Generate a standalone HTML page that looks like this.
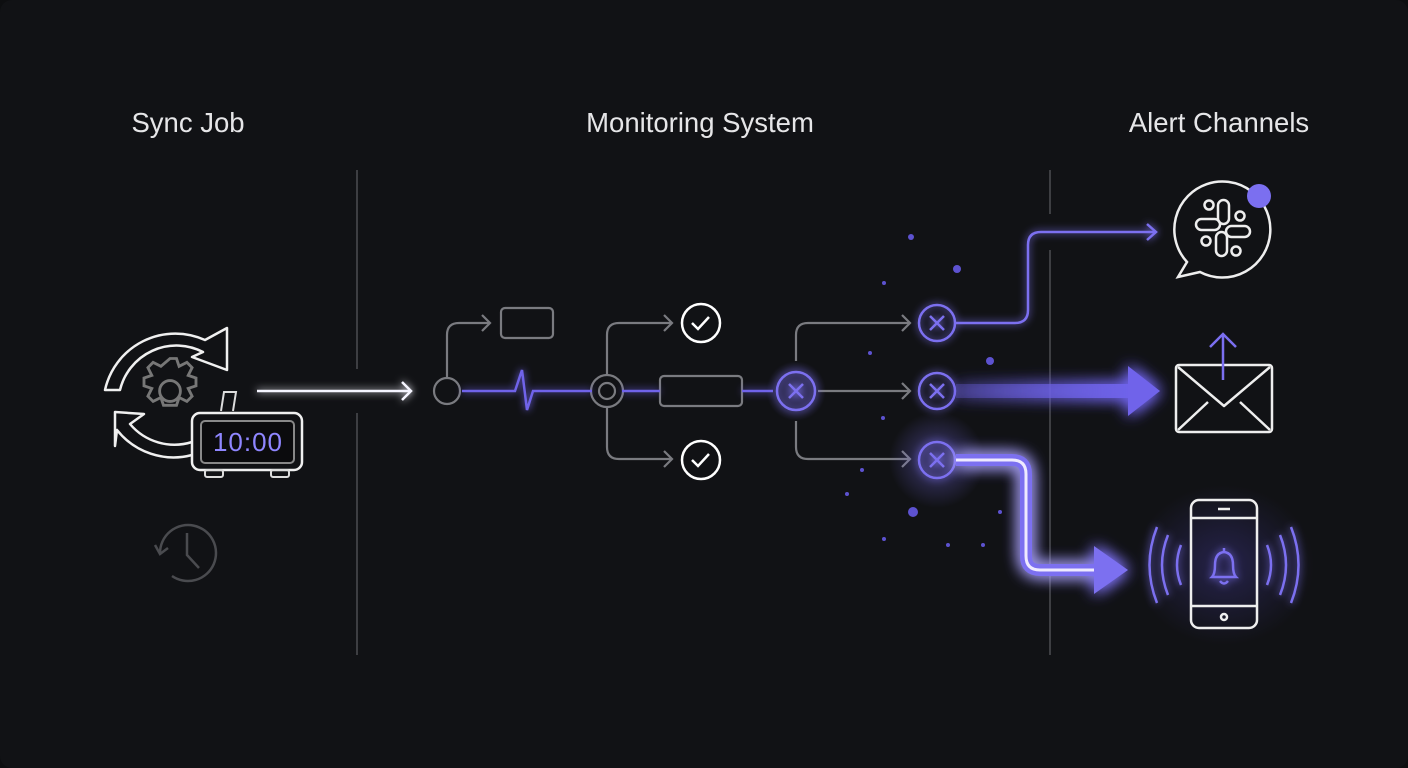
<!DOCTYPE html>
<html><head><meta charset="utf-8"><style>
html,body{margin:0;padding:0;background:#0d0e10;}
svg{display:block}
text{font-family:"Liberation Sans",sans-serif;}
</style></head><body>
<svg width="1408" height="768" viewBox="0 0 1408 768" xmlns="http://www.w3.org/2000/svg">
<defs>
<filter id="g" x="-50%" y="-50%" width="200%" height="200%"><feGaussianBlur stdDeviation="4" result="b"/><feMerge><feMergeNode in="b"/><feMergeNode in="SourceGraphic"/></feMerge></filter>
<filter id="g2" x="-50%" y="-50%" width="200%" height="200%"><feGaussianBlur stdDeviation="8" result="b"/><feMerge><feMergeNode in="b"/><feMergeNode in="b"/><feMergeNode in="SourceGraphic"/></feMerge></filter>
<radialGradient id="halo"><stop offset="0" stop-color="#7b6ff0" stop-opacity="0.45"/><stop offset="1" stop-color="#7b6ff0" stop-opacity="0"/></radialGradient>
<radialGradient id="phone"><stop offset="0" stop-color="#3a3380" stop-opacity="0.5"/><stop offset="1" stop-color="#3a3380" stop-opacity="0"/></radialGradient>
<linearGradient id="bar" x1="0" x2="1"><stop offset="0" stop-color="#6a5fe0" stop-opacity="0.3"/><stop offset="1" stop-color="#6f63ea"/></linearGradient>
</defs>
<rect width="1408" height="768" rx="12" fill="#111215"/>
<text x="188" y="132" font-size="27.5" fill="#e6e6e8" text-anchor="middle">Sync Job</text>
<text x="700" y="132" font-size="27.5" fill="#e6e6e8" text-anchor="middle">Monitoring System</text>
<text x="1219" y="132" font-size="27.5" fill="#e6e6e8" text-anchor="middle">Alert Channels</text>
<g stroke="#3d3e42" stroke-width="2">
<line x1="357" y1="170" x2="357" y2="369"/><line x1="357" y1="413" x2="357" y2="655"/>
<line x1="1050" y1="170" x2="1050" y2="214"/><line x1="1050" y1="250" x2="1050" y2="655"/>
</g>
<!-- sync icon -->
<g fill="none" stroke="#f0f0f0" stroke-width="2.5" stroke-linejoin="round">
<path d="M105,390 A72,72 0 0 1 205,340 L227,328 L227,370 L192,357 L203,352 A58,58 0 0 0 120,390 Z"/>
<path d="M192,455 A72,72 0 0 1 117,430 L115,446 L115,412 L144,414 L130,424 A58,58 0 0 0 192,442"/>
</g>
<g fill="none" stroke="#777" stroke-width="2.2" transform="translate(170,391) scale(1.3) translate(-170,-391)">
<circle cx="170" cy="391" r="8"/>
<path d="M170,366 l5,0 l2,6 l6,-3 l4,4 l-3,6 l6,2 l0,6 l-6,2 l3,6 l-4,4 l-6,-3 l-2,6 l-10,0 l-2,-6 l-6,3 l-4,-4 l3,-6 l-6,-2 l0,-6 l6,-2 l-3,-6 l4,-4 l6,3 z"/>
</g>
<path d="M221,411 L224,392 L236,392 L233,411" fill="none" stroke="#ddd" stroke-width="2"/>
<rect x="192" y="413" width="110" height="57" rx="8" fill="#111215" stroke="#f0f0f0" stroke-width="2.5"/>
<rect x="201" y="421" width="93" height="42" rx="4" fill="#0b0b0d" stroke="#888" stroke-width="2"/>
<text x="248" y="451" font-size="26" fill="#8f86ff" text-anchor="middle" font-family="Liberation Mono,monospace" letter-spacing="1">10:00</text>
<rect x="205" y="470" width="18" height="7" rx="2" fill="none" stroke="#ddd" stroke-width="2"/>
<rect x="271" y="470" width="18" height="7" rx="2" fill="none" stroke="#ddd" stroke-width="2"/>
<g fill="none" stroke="#4a4b4f" stroke-width="2.5">
<path d="M160,553 A28,28 0 1 1 172,576"/><path d="M155,545 l5,9 l8,-6"/><path d="M187,533 v22 l12,13"/>
</g>
<!-- arrow in -->
<g filter="url(#g)" stroke="#f5f5ff" stroke-width="2.5" fill="none">
<line x1="257" y1="391" x2="410" y2="391"/><path d="M402,382 L411,391 L402,400"/>
</g>
<!-- monitoring -->
<g fill="none" stroke="#7a7b80" stroke-width="2.2">
<circle cx="447" cy="391" r="13"/>
<path d="M447,378 V335 Q447,323 459,323 H490"/><path d="M482,315 L490,323 L482,331"/>
<rect x="501" y="308" width="52" height="30" rx="4"/>
<circle cx="607" cy="391" r="16"/><circle cx="607" cy="391" r="8"/>
<path d="M607,375 V335 Q607,323 619,323 H672"/><path d="M664,315 L672,323 L664,331"/>
<path d="M607,407 V447 Q607,459 619,459 H672"/><path d="M664,451 L672,459 L664,467"/>
<rect x="660" y="376" width="82" height="30" rx="4"/>
<path d="M796,361 V335 Q796,323 808,323 H910"/><path d="M902,315 L910,323 L902,331"/>
<path d="M818,391 H910"/><path d="M902,383 L910,391 L902,399"/>
<path d="M796,421 V447 Q796,459 808,459 H910"/><path d="M902,451 L910,459 L902,467"/>
</g>
<g filter="url(#g)" stroke="#6f63ea" stroke-width="2.5" fill="none">
<path d="M462,391 H515 L522,370 L527,410 L533,391 H592"/>
<line x1="622" y1="391" x2="660" y2="391"/><line x1="742" y1="391" x2="773" y2="391"/>
</g>
<g fill="none" stroke="#fff" stroke-width="2.5">
<circle cx="701" cy="323" r="19"/><path d="M692,323 l6,6 l11,-12"/>
<circle cx="701" cy="460" r="19"/><path d="M692,460 l6,6 l11,-12"/>
</g>
<circle cx="937" cy="460" r="48" fill="url(#halo)"/>
<circle cx="796" cy="391" r="30" fill="url(#halo)"/>
<g fill="none" stroke="#7b6ff0" stroke-width="2.5" filter="url(#g)">
<circle cx="796" cy="391" r="19"/><path d="M789,384 l14,14 M803,384 l-14,14"/>
<circle cx="937" cy="323" r="18"/><path d="M930,316 l14,14 M944,316 l-14,14"/>
<circle cx="937" cy="391" r="18"/><path d="M930,384 l14,14 M944,384 l-14,14"/>
<circle cx="937" cy="460" r="18"/><path d="M930,453 l14,14 M944,453 l-14,14"/>
<path d="M956,323 H1015 Q1028,323 1028,310 V245 Q1028,232 1041,232 H1155"/><path d="M1147,224 L1156,232 L1147,240"/>
</g>
<g filter="url(#g2)">
<rect x="956" y="384" width="176" height="14" fill="url(#bar)"/>
<path d="M1128,366 L1160,391 L1128,416 Z" fill="#6f63ea"/>
<path d="M956,460 H1012 Q1026,460 1026,474 V556 Q1026,570 1040,570 H1098" fill="none" stroke="#7b6ff0" stroke-width="12"/>
<path d="M956,460 H1012 Q1026,460 1026,474 V556 Q1026,570 1040,570 H1098" fill="none" stroke="#eeeaff" stroke-width="3"/>
<path d="M1094,546 L1128,570 L1094,594 Z" fill="#7b6ff0"/>
</g>
<g fill="#5d52d0">
<circle cx="911" cy="237" r="3"/><circle cx="957" cy="269" r="4"/><circle cx="884" cy="283" r="2"/><circle cx="870" cy="353" r="2"/>
<circle cx="990" cy="361" r="4"/><circle cx="883" cy="418" r="2"/><circle cx="862" cy="470" r="2"/><circle cx="847" cy="494" r="2"/>
<circle cx="913" cy="512" r="5"/><circle cx="884" cy="539" r="2"/><circle cx="948" cy="545" r="2"/><circle cx="1000" cy="512" r="2"/><circle cx="983" cy="545" r="2"/>
</g>
<!-- slack -->
<g fill="none" stroke="#eee" stroke-width="2.5">
<path d="M1187,262 A48,48 0 1 1 1200,272 L1178,277 Z"/>
<rect x="1196" y="219" width="24" height="11" rx="5.5"/><rect x="1218" y="200" width="11" height="24" rx="5.5"/>
<rect x="1226" y="226" width="24" height="11" rx="5.5"/><rect x="1216" y="232" width="11" height="24" rx="5.5"/>
<circle cx="1240" cy="216" r="4.5"/><circle cx="1206" cy="241" r="4.5"/><circle cx="1209" cy="205" r="4.5"/><circle cx="1236" cy="251" r="4.5"/>
</g>
<circle cx="1259" cy="196" r="12" fill="#7b6ff0"/>
<!-- email -->
<g fill="none" stroke="#eee" stroke-width="2.5" stroke-linejoin="round">
<rect x="1176" y="365" width="96" height="67" rx="3"/>
<path d="M1178,367 L1224,406 L1270,367 M1178,430 L1208,402 M1270,430 L1240,402"/>
</g>
<g fill="none" stroke="#7b6ff0" stroke-width="2.5"><path d="M1223,380 V334 M1210,347 L1223,334 L1236,347"/></g>
<!-- phone -->
<ellipse cx="1224" cy="565" rx="90" ry="80" fill="url(#phone)"/>
<g fill="none" stroke="#eee" stroke-width="2.5">
<rect x="1191" y="500" width="66" height="128" rx="8"/>
<line x1="1191" y1="518" x2="1257" y2="518"/><line x1="1191" y1="606" x2="1257" y2="606"/>
<line x1="1218" y1="509" x2="1230" y2="509"/><circle cx="1224" cy="617" r="3"/>
</g>
<g fill="none" stroke="#7b6ff0" stroke-width="2.5" filter="url(#g)">
<path d="M1212,577 q3,-3 3,-12 q0,-12 9,-13 q9,1 9,13 q0,9 3,12 z M1224,552 v-4 M1220,581 q4,5 8,0"/>
<path d="M1181,545 q-8,20 0,40 M1168,535 q-12,30 0,60 M1157,527 q-15,38 0,76"/>
<path d="M1267,545 q8,20 0,40 M1280,535 q12,30 0,60 M1291,527 q15,38 0,76"/>
</g>
</svg>
</body></html>
